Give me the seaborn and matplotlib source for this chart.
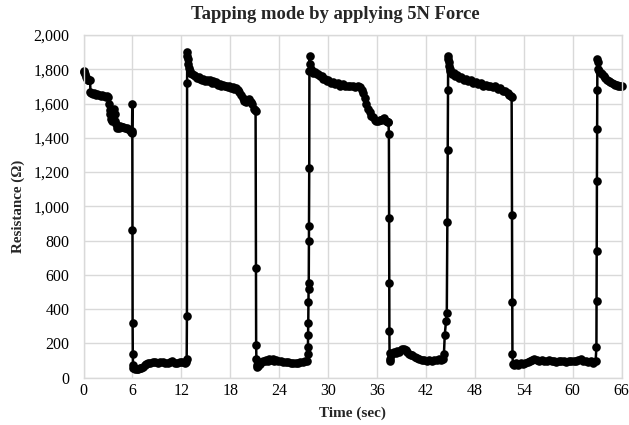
import matplotlib
matplotlib.use("Agg")
import matplotlib.pyplot as plt
import matplotlib.ticker as mticker
import seaborn as sns
import pandas as pd

# ---- data (time in s, resistance in ohm) ----
t_high1 = [0.0, 0.1, 0.2, 0.3, 0.4, 0.5, 0.6, 0.7, 0.8, 0.85, 0.9, 1.1, 1.3, 1.5, 1.7, 1.9, 2.1, 2.3,
           2.5, 2.7, 2.9, 3.0, 3.1, 3.2, 3.3, 3.4, 3.5, 3.6, 3.7, 3.8, 3.9, 4.0, 4.1, 4.3, 4.5, 4.7,
           4.9, 5.1, 5.3, 5.5, 5.7, 5.8, 5.9, 5.95]
r_high1 = [1790, 1785, 1770, 1755, 1745, 1740, 1735, 1740, 1735, 1670, 1660, 1655, 1660, 1650, 1655,
           1650, 1645, 1650, 1645, 1640, 1645, 1640, 1600, 1560, 1540, 1510, 1500, 1560, 1570, 1540,
           1500, 1480, 1460, 1455, 1470, 1465, 1465, 1460, 1455, 1450, 1445, 1435, 1430, 1440]
t_drop1 = [5.98, 6.0, 6.02, 6.04, 6.07, 6.1]
r_drop1 = [1595, 860, 320, 140, 75, 55]
t_low1 = [6.3, 6.5, 6.7, 6.9, 7.1, 7.3, 7.5, 7.7, 7.9, 8.2, 8.5, 8.8, 9.1, 9.4, 9.7, 10.0, 10.3,
          10.6, 10.9, 11.2, 11.5, 11.8, 12.1, 12.4, 12.6]
r_low1 = [50, 50, 52, 55, 55, 60, 75, 80, 85, 85, 90, 90, 85, 90, 90, 85, 85, 90, 95, 85, 85, 90,
          90, 85, 90]
t_rise2 = [12.65, 12.68, 12.7, 12.72]
r_rise2 = [110, 360, 1720, 1900]
t_high2 = [12.75, 12.8, 12.85, 12.9, 13.0, 13.1, 13.3, 13.5, 13.7, 13.9, 14.1, 14.3, 14.5, 14.7,
           14.9, 15.1, 15.3, 15.5, 15.7, 15.9, 16.1, 16.3, 16.5, 16.7, 16.9, 17.1, 17.3, 17.5,
           17.7, 17.9, 18.1, 18.3, 18.5, 18.7, 18.9, 19.1, 19.3, 19.5, 19.7, 19.9, 20.1, 20.3,
           20.5, 20.7, 20.9, 21.0, 21.1]
r_high2 = [1880, 1860, 1830, 1810, 1790, 1780, 1770, 1765, 1760, 1750, 1755, 1745, 1735, 1745,
           1730, 1740, 1730, 1735, 1720, 1730, 1720, 1725, 1710, 1715, 1705, 1710, 1700, 1705,
           1695, 1700, 1690, 1695, 1685, 1690, 1680, 1670, 1650, 1630, 1615, 1610, 1620, 1625,
           1610, 1600, 1570, 1560, 1555]
t_drop2 = [21.15, 21.17, 21.2, 21.25, 21.3]
r_drop2 = [640, 190, 110, 75, 65]
t_low2 = [21.4, 21.6, 21.8, 22.0, 22.2, 22.4, 22.6, 22.8, 23.0, 23.2, 23.4, 23.6, 23.9, 24.2,
          24.5, 24.8, 25.1, 25.4, 25.7, 26.0, 26.3, 26.6, 26.9, 27.2, 27.4]
r_low2 = [70, 80, 90, 100, 95, 105, 100, 110, 105, 110, 100, 105, 95, 95, 90, 90, 90, 85, 85,
          85, 85, 90, 90, 95, 100]
t_rise3 = [27.5, 27.52, 27.54, 27.56, 27.58, 27.6, 27.62, 27.64, 27.66, 27.68, 27.7, 27.72]
r_rise3 = [140, 180, 250, 320, 440, 515, 555, 800, 885, 1225, 1790, 1880]
t_high3 = [27.8, 27.9, 28.0, 28.2, 28.4, 28.6, 28.8, 29.0, 29.2, 29.4, 29.6, 29.8, 30.0, 30.3,
           30.6, 30.9, 31.2, 31.5, 31.8, 32.1, 32.4, 32.7, 33.0, 33.3, 33.6, 33.9, 34.1, 34.3,
           34.5, 34.7, 34.9, 35.1, 35.3, 35.5, 35.7, 35.9, 36.1, 36.3, 36.5, 36.7, 36.9, 37.1,
           37.3, 37.4]
r_high3 = [1830, 1800, 1790, 1780, 1785, 1770, 1775, 1760, 1760, 1745, 1745, 1730, 1735, 1720,
           1725, 1715, 1720, 1705, 1715, 1700, 1705, 1700, 1705, 1695, 1705, 1695, 1680, 1660,
           1630, 1600, 1570, 1550, 1530, 1520, 1505, 1500, 1500, 1505, 1505, 1510, 1515, 1500,
           1495, 1490]
t_drop3 = [37.45, 37.47, 37.49, 37.51, 37.53, 37.55]
r_drop3 = [1420, 930, 555, 270, 145, 110]
t_low3 = [37.6, 37.7, 37.9, 38.1, 38.3, 38.5, 38.7, 38.9, 39.1, 39.3, 39.5, 39.7, 39.9, 40.1,
          40.3, 40.6, 40.9, 41.2, 41.5, 41.8, 42.1, 42.4, 42.7, 43.0, 43.3, 43.6, 43.9, 44.1]
r_low3 = [100, 130, 145, 150, 145, 155, 150, 160, 165, 170, 160, 150, 140, 135, 130, 120, 115,
          110, 105, 105, 100, 105, 100, 105, 105, 110, 105, 110]
t_rise4 = [44.2, 44.3, 44.45, 44.55, 44.62, 44.66, 44.69, 44.72]
r_rise4 = [140, 250, 330, 380, 910, 1330, 1680, 1880]
t_high4 = [44.75, 44.8, 44.85, 44.9, 45.0, 45.2, 45.4, 45.6, 45.8, 46.0, 46.3, 46.6, 46.9, 47.2,
           47.5, 47.8, 48.1, 48.4, 48.7, 49.0, 49.3, 49.6, 49.9, 50.2, 50.5, 50.8, 51.1, 51.4,
           51.7, 52.0, 52.2, 52.4, 52.5]
r_high4 = [1860, 1840, 1820, 1800, 1790, 1775, 1780, 1760, 1765, 1750, 1755, 1740, 1745, 1730,
           1735, 1720, 1725, 1715, 1720, 1705, 1710, 1700, 1705, 1695, 1700, 1685, 1690, 1675,
           1675, 1660, 1650, 1645, 1640]
t_drop4 = [52.55, 52.58, 52.6, 52.65]
r_drop4 = [950, 440, 140, 80]
t_low4 = [52.8, 53.0, 53.3, 53.6, 53.9, 54.2, 54.5, 54.8, 55.0, 55.3, 55.6, 55.9, 56.2, 56.5,
          56.8, 57.1, 57.4, 57.7, 58.0, 58.3, 58.6, 58.9, 59.2, 59.5, 59.8, 60.1, 60.4, 60.7,
          61.0, 61.3, 61.6, 61.9, 62.2, 62.5, 62.8]
r_low4 = [75, 85, 75, 85, 80, 85, 90, 95, 105, 110, 105, 100, 105, 95, 100, 105, 95, 100, 90,
          100, 95, 100, 90, 100, 95, 100, 95, 105, 110, 100, 95, 90, 95, 85, 95]
t_rise5 = [62.9, 62.92, 62.94, 62.96, 62.98, 63.0, 63.02]
r_rise5 = [180, 450, 740, 1150, 1450, 1680, 1860]
t_high5 = [63.05, 63.1, 63.2, 63.4, 63.6, 63.8, 64.0, 64.2, 64.4, 64.6, 64.8, 65.0, 65.2, 65.4,
           65.6, 65.8, 66.0]
r_high5 = [1840, 1800, 1790, 1780, 1770, 1760, 1750, 1740, 1730, 1725, 1720, 1715, 1710, 1710,
           1705, 1700, 1700]

x_ticks = [0, 6, 12, 18, 24, 30, 36, 42, 48, 54, 60, 66]
y_ticks = [0, 200, 400, 600, 800, 1000, 1200, 1400, 1600, 1800, 2000]
title = "Tapping mode by applying 5N Force"
x_label = "Time (sec)"
y_label = "Resistance (\u03a9)"

segments_t = [t_high1, t_drop1, t_low1, t_rise2, t_high2, t_drop2, t_low2, t_rise3, t_high3,
              t_drop3, t_low3, t_rise4, t_high4, t_drop4, t_low4, t_rise5, t_high5]
segments_r = [r_high1, r_drop1, r_low1, r_rise2, r_high2, r_drop2, r_low2, r_rise3, r_high3,
              r_drop3, r_low3, r_rise4, r_high4, r_drop4, r_low4, r_rise5, r_high5]
time = [v for s in segments_t for v in s]
res = [v for s in segments_r for v in s]
df = pd.DataFrame({"time": time, "res": res})

sns.set_theme(style="white")
plt.rcParams["font.family"] = ["Liberation Serif", "DejaVu Serif"]

fig = plt.figure(figsize=(6.29, 4.25), dpi=100)
ax = fig.add_axes([0.1328, 0.1113, 0.8556, 0.8063])

sns.lineplot(data=df, x="time", y="res", ax=ax, sort=False, estimator=None,
             color="black", linewidth=1.8, marker="o", markersize=6.2,
             markeredgewidth=0, markerfacecolor="black", clip_on=False)

ax.set_xlim(0, 66)
ax.set_ylim(0, 2000)
ax.set_xticks(x_ticks)
ax.set_yticks(y_ticks)
ax.yaxis.set_major_formatter(mticker.FuncFormatter(lambda v, p: f"{int(v):,}"))
ax.grid(True, color="#d9d9d9", linewidth=1.0)
ax.set_axisbelow(True)
for sp in ax.spines.values():
    sp.set_color("#d9d9d9")
    sp.set_linewidth(1.0)
ax.tick_params(axis="x", length=0, labelsize=11.5, colors="black", pad=4)
ax.tick_params(axis="y", length=0, labelsize=11.5, colors="black", pad=10)

fig.suptitle(title, x=0.533, y=0.985, fontsize=13.4, fontweight="bold", va="top")
ax.set_xlabel(x_label, fontsize=11, fontweight="bold", labelpad=5)
ax.set_ylabel(y_label, fontsize=10.8, fontweight="bold", labelpad=6)

fig.savefig("out.png", dpi=100)
